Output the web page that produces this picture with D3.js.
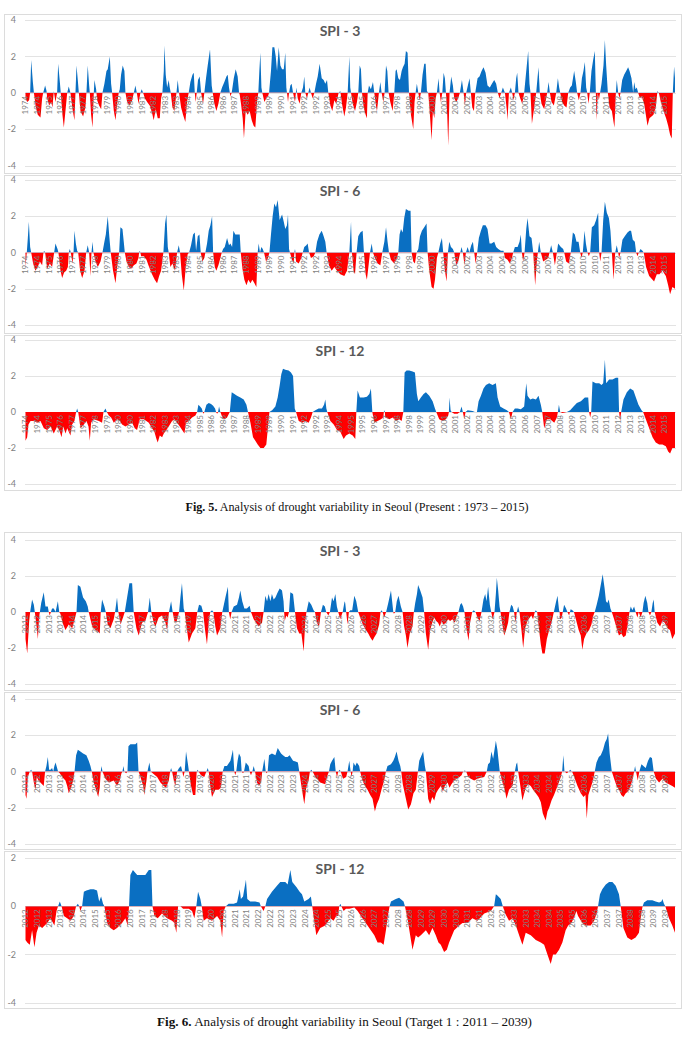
<!DOCTYPE html>
<html><head><meta charset="utf-8">
<script src="https://cdn.jsdelivr.net/npm/d3@7"></script>
<style>body{margin:0;background:#fff}svg{display:block}</style>
</head><body><svg id="c" width="689" height="1044"></svg>
<script>
// ---- DATA: [month index from start of record, SPI value] ----
const fig5Spi3 = [[0,-0.3],[1.3,-0.5],[2.8,-0.4],[3.6,0],[4.4,1.8],[5.7,0.6],[6.5,0],[8.0,-0.8],[9.5,-1.2],[11.6,-1.35],[12.9,-0.3],[13.7,0],[15.2,0.4],[16.3,0.1],[16.8,-0.3],[18.3,-0.7],[19.9,-0.5],[20.9,-0.8],[21.9,0.1],[23.2,-0.5],[24.5,0],[25.3,1.6],[26.6,0.6],[27.3,0],[28.6,-1.2],[29.7,-1.9],[31.2,-0.8],[32.3,0],[33.5,0.35],[34.8,0],[36.4,-0.9],[37.9,-1.5],[38.7,0],[39.5,1.5],[40.5,0.7],[41.3,0],[42.6,-1.0],[44.6,-1.3],[46.4,-0.8],[47.2,0],[48.2,1.5],[49.3,0.4],[49.8,0],[50.8,-1.2],[51.9,-1.9],[52.9,0],[53.4,0.7],[54.7,0.2],[55.5,-0.4],[57.0,-0.7],[58.6,-0.9],[59.6,0],[61.1,0.5],[62.7,1.2],[63.7,1.3],[65.3,2.0],[66.3,0.5],[67.1,0],[68.4,-1.0],[69.7,-1.5],[71.0,-0.6],[72.2,0],[73.0,0.2],[74.0,1.0],[75.3,1.5],[76.6,1.2],[77.4,0],[78.7,-0.5],[80.8,-0.7],[82.6,-0.4],[83.9,0],[85.1,0.4],[86.2,0],[87.5,-0.6],[89.0,0],[90.0,0.2],[91.1,0],[92.4,-0.3],[94.2,-0.5],[96.2,-0.7],[98.0,-1.1],[99.3,-1.5],[100.9,-0.9],[102.4,-1.4],[104.0,-1.4],[105.0,-0.3],[106.0,0],[107.1,1.2],[107.6,2.6],[108.6,1.0],[109.7,0.3],[110.9,0.7],[111.7,0.3],[112.5,0],[113.8,-0.8],[115.3,-1.0],[116.9,0],[117.9,0.7],[118.9,0],[120.5,-0.8],[122.0,-1.2],[123.8,-1.6],[125.1,-0.5],[126.4,0],[127.7,0.6],[129.3,1.0],[130.3,1.1],[131.1,0],[131.8,-0.5],[132.6,0],[133.6,0.7],[134.9,0.9],[136.0,0],[137.5,-0.6],[138.5,0],[139.8,0.8],[141.1,1.5],[142.9,2.4],[144.2,0.4],[145.0,0],[146.3,-0.6],[147.8,-1.0],[149.4,-0.6],[150.9,0],[152.2,0.3],[154.0,0.6],[155.6,0.9],[156.6,1.0],[157.6,0.3],[158.7,-0.2],[159.7,0],[161.3,0.8],[162.8,1.3],[164.3,0.9],[165.4,0],[165.9,-0.1],[166.9,-0.6],[168.2,-1.4],[169.2,-2.5],[170.5,-1.0],[172.1,-1.2],[173.6,-1.0],[175.2,-1.5],[176.7,-1.8],[178.0,-1.9],[179.3,-0.5],[180.3,0],[181.1,1.2],[181.9,2.2],[182.7,0.3],[183.4,0],[185.0,-0.5],[186.5,-0.3],[187.8,-0.2],[188.6,0],[190.1,1.2],[191.2,2.5],[192.7,2.5],[193.8,2.0],[194.8,1.2],[196.1,2.5],[197.4,1.5],[198.7,1.3],[200.0,1.3],[201.2,2.2],[202.0,0.3],[202.5,0],[203.3,-0.5],[204.1,0],[205.1,0.4],[206.1,0.5],[207.2,0],[208.7,-0.5],[209.8,0.3],[210.8,-0.3],[212.3,-0.6],[213.6,0],[214.9,0.3],[215.9,0.9],[216.7,0],[218.0,-0.3],[219.0,0],[220.0,0.3],[221.1,0],[222.4,-0.3],[223.7,0],[225.0,0.5],[226.3,0.9],[227.8,1.6],[229.4,0.8],[230.9,0.7],[232.2,0.5],[233.5,0.7],[234.5,0],[236.1,-0.7],[237.6,-1.0],[239.2,-0.4],[240.7,-0.6],[242.5,0],[243.8,0.1],[245.1,-0.6],[246.9,-1.3],[248.2,-0.8],[249.5,0],[250.8,2.0],[251.5,0.3],[252.1,0],[253.4,-0.6],[255.2,-1.0],[256.7,-0.5],[257.7,0],[258.8,1.5],[259.8,1.3],[260.6,0],[261.9,-0.8],[263.4,-1.2],[264.4,-1.4],[265.0,0],[266.0,0.4],[267.5,0.2],[269.1,0.6],[270.1,0],[271.4,-0.7],[272.2,-1.0],[273.7,0],[274.8,0.6],[275.8,0],[277.1,-0.5],[278.1,0],[279.2,1.5],[280.2,1.2],[281.2,0],[282.5,-0.5],[284.3,-1.0],[285.6,0],[286.6,1.2],[287.4,1.3],[288.7,0.8],[290.0,0.7],[291.3,1.2],[292.3,1.4],[293.6,1.6],[294.6,2.3],[295.9,2.2],[297.0,0],[298.5,-1.2],[300.3,-2.0],[301.3,-0.5],[302.1,0],[303.1,0.5],[304.2,0],[305.2,-0.4],[306.2,0],[307.5,1.0],[308.8,1.6],[309.9,1.6],[310.9,0.1],[311.9,0],[313.0,-1.0],[314.5,-2.6],[315.5,-1.0],[316.6,-1.4],[317.6,-0.3],[318.6,0],[319.9,0.8],[320.7,0],[321.7,-0.5],[322.8,0],[323.8,1.1],[324.8,0.8],[325.6,0],[326.6,-1.2],[327.4,-2.9],[328.4,0],[329.7,0.9],[331.0,0.4],[332.0,-0.3],[333.6,-0.5],[335.1,-0.3],[336.4,0],[338.0,0.7],[339.3,0],[340.3,-0.7],[341.3,0],[342.9,0.5],[343.9,0.8],[344.9,0],[346.0,-0.8],[347.3,-1.0],[348.3,0],[350.1,0.8],[351.6,0.9],[353.2,1.2],[354.7,1.4],[356.3,1.1],[357.8,0.4],[359.6,0.3],[361.2,0.5],[363.0,0.7],[364.5,0.5],[365.8,0],[367.1,-0.3],[368.4,0],[369.7,0.3],[371.3,0],[372.8,-1.0],[373.3,-1.5],[374.4,0],[375.9,0.3],[376.9,0],[378.0,-0.4],[379.0,0],[380.0,0.8],[380.8,1.1],[381.8,0],[383.1,-0.3],[384.7,-0.6],[386.2,0],[387.8,1.2],[389.3,2.3],[390.3,0.5],[391.1,0],[392.2,-1.7],[394.0,-0.8],[395.5,0],[396.5,0.8],[397.3,1.4],[398.3,0],[399.6,-0.6],[401.7,-0.9],[403.0,-0.4],[404.0,0],[405.1,0.6],[406.1,0],[407.4,-0.5],[409.2,-0.7],[411.0,0],[412.3,0.8],[413.3,0.3],[414.1,0],[415.6,-0.5],[417.2,-0.7],[419.0,-0.8],[420.3,0],[421.8,0.3],[423.1,0.4],[424.9,1.2],[426.2,0.6],[427.2,0],[428.5,-0.4],[429.8,0],[430.9,0.8],[432.1,1.2],[433.2,1.7],[434.2,0.3],[435.0,0],[436.0,-0.6],[437.0,0],[438.3,1.2],[439.6,1.8],[440.9,2.3],[441.7,0],[442.2,-1.5],[443.2,0],[444.0,-0.4],[445.0,0],[446.1,0.5],[447.6,1.5],[448.7,2.9],[449.7,1.5],[451.0,0],[452.3,-0.8],[454.1,-1.0],[455.4,-1.6],[456.1,-1.9],[457.2,0],[457.9,0.7],[459.0,0],[460.0,-0.3],[460.8,0],[462.1,0.7],[463.6,1.0],[465.2,1.2],[466.7,1.4],[467.8,1.2],[469.3,0.8],[470.6,0],[471.4,0.6],[472.4,0.2],[473.4,0.3],[474.5,0],[475.7,-0.3],[477.3,-0.2],[479.1,-0.6],[480.4,-1.2],[481.7,-1.8],[483.2,-1.4],[484.8,-1.3],[486.3,-1.2],[488.1,-0.8],[489.4,0.1],[490.5,0],[492.0,-0.5],[494.1,-1.0],[496.1,-1.4],[497.7,-1.8],[499.2,-2.3],[500.5,-2.5],[501.3,0],[502.3,1.45],[503,0.8]];

const fig5Spi6 = [[0,-0.8],[1.0,0],[1.8,0.8],[2.6,1.7],[3.6,0.3],[4.4,0],[5.9,-0.6],[7.7,-1.0],[9.5,-0.8],[11.1,-0.5],[12.9,-0.7],[13.9,0],[14.4,0.1],[15.2,0],[16.8,-0.9],[18.8,-0.6],[20.6,-0.8],[22.2,0],[23.2,0.5],[24.8,0.2],[25.5,0],[27.1,-1.0],[28.4,-1.4],[29.9,-1.1],[31.5,-1.0],[32.8,-0.8],[33.5,0],[34.3,0.2],[35.1,0],[36.4,-0.6],[37.2,0],[37.9,1.2],[39.0,0.5],[40.0,0.1],[40.8,0],[42.3,-1.0],[43.9,-1.4],[45.7,-1.0],[47.0,0],[48.2,0.4],[49.3,0],[50.3,-1.3],[51.1,0],[51.9,0.6],[52.6,0],[54.2,-0.5],[56.0,-0.8],[58.1,-0.5],[59.6,0],[61.1,0.6],[62.2,1.0],[63.7,2.0],[65.0,0.8],[66.0,0],[67.8,-1.0],[69.7,-1.7],[71.0,-0.8],[72.5,0],[73.5,1.4],[75.1,1.3],[76.1,0.6],[76.9,0],[78.2,-0.5],[80.0,-0.8],[81.8,-0.9],[83.9,-0.7],[85.9,-0.6],[87.5,-0.3],[88.0,0],[88.5,0.1],[89.0,0],[89.5,-0.2],[91.6,-0.2],[93.7,-0.4],[95.7,-0.8],[98.0,-1.2],[100.1,-1.5],[101.9,-1.7],[103.5,-1.3],[105.0,-1.0],[106.8,0],[108.1,1.6],[109.1,2.1],[110.2,0.3],[110.9,0],[112.2,-0.8],[113.8,-0.6],[115.8,-1.0],[117.4,0],[118.7,0.4],[119.7,0],[121.0,-1.2],[122.6,-2.1],[124.1,-0.8],[125.6,-0.1],[126.7,0],[128.2,0.4],[129.8,1.0],[131.1,1.1],[132.1,0.1],[133.4,0.9],[134.7,1.0],[135.7,0],[137.0,-0.5],[138.5,-0.3],[139.3,0],[140.6,0.5],[141.9,1.2],[143.2,1.5],[144.5,2.0],[145.3,0],[146.6,-0.8],[147.8,-1.0],[149.4,-0.7],[150.9,-0.3],[152.0,0],[153.0,0.2],[154.3,0.3],[156.1,0.8],[157.6,0.4],[158.7,0.5],[160.0,0.3],[161.0,1.2],[162.5,1.0],[164.3,1.0],[165.9,1.0],[166.7,0],[168.0,-0.9],[169.5,-1.5],[171.1,-1.8],[172.6,-1.5],[174.2,-1.7],[175.7,-1.5],[177.3,-1.7],[178.8,-1.9],[179.8,0],[180.6,0.5],[181.6,0],[182.7,0.3],[183.7,0.2],[184.7,0],[186.3,-0.5],[187.8,-0.3],[188.9,0],[190.1,1.0],[191.4,2.0],[192.7,2.7],[194.0,2.5],[195.3,2.9],[196.8,1.8],[198.7,2.1],[200.0,1.7],[201.2,1.3],[202.5,1.5],[203.3,2.1],[204.1,0.2],[204.8,0],[206.4,-0.4],[207.7,-0.6],[208.2,0],[208.7,0.2],[209.1,0],[209.5,-0.5],[211.6,-0.6],[213.6,-0.3],[214.7,0],[215.9,0.3],[217.5,0.4],[218.5,0.5],[219.6,0],[221.1,-0.3],[223.2,-0.2],[224.5,0],[225.8,0.6],[227.6,1.0],[229.4,1.2],[230.9,0.9],[232.2,0.6],[233.2,0],[235.0,-0.7],[237.1,-1.0],[239.2,-0.8],[241.2,-1.0],[243.8,-1.2],[246.9,-1.3],[249.0,-1.0],[250.8,0],[252.1,1.7],[252.8,0],[254.1,-1.0],[255.2,-1.2],[256.4,0],[257.7,0.9],[259.3,1.1],[261.1,1.2],[262.1,0],[263.4,-1.2],[264.4,-1.5],[265.7,-0.7],[266.8,0],[268.1,0.5],[269.1,0],[270.6,-0.3],[272.7,-0.6],[274.8,-0.7],[276.3,0],[277.1,0.3],[277.9,0.6],[279.2,1.4],[280.4,0.6],[281.5,0],[283.0,-0.4],[285.6,-0.6],[287.7,-0.3],[288.7,0],[289.7,1.0],[290.8,1.3],[292.1,1.1],[293.3,1.9],[294.6,2.4],[296.7,2.3],[298.2,2.3],[299.0,0],[300.3,-0.5],[301.6,-0.6],[302.9,0],[304.2,0.2],[305.5,0.9],[307.0,1.2],[308.8,1.4],[310.6,1.6],[311.4,0],[312.7,-1.0],[314.5,-1.9],[316.0,-2.0],[317.1,-1.5],[318.6,-0.3],[319.7,0],[321.2,0.5],[322.5,0.8],[323.5,0],[324.8,-1.0],[326.1,-1.6],[327.1,0],[328.2,0.6],[329.5,0.3],[331.0,0.2],[332.0,0],[333.6,-0.7],[335.1,-0.5],[336.7,0],[337.7,0.3],[338.7,0],[340.0,-0.7],[341.1,0],[342.4,0.3],[343.7,0],[345.2,0.4],[346.5,0.6],[347.5,0],[348.6,-0.6],[349.8,0],[351.1,0.8],[352.7,1.2],[354.2,1.5],[356.3,1.5],[357.8,1.3],[359.4,0.5],[360.9,0.5],[363.0,0.6],[364.5,0.3],[366.1,0.2],[368.2,0.1],[370.2,0.1],[371.3,-0.3],[373.3,-0.4],[375.1,-0.6],[376.7,-0.3],[377.7,0],[379.0,0.3],[381.1,0.3],[382.6,0.6],[383.6,1.0],[384.4,0],[385.4,-0.5],[386.5,0],[387.8,1.3],[388.8,1.9],[390.3,0.9],[391.9,0.8],[393.2,0],[394.7,-1.8],[396.0,-0.5],[396.8,0],[397.8,0.6],[399.1,0],[400.9,-0.5],[403.0,-0.4],[404.8,-0.3],[405.8,0],[407.1,0.4],[408.4,0],[410.0,-0.7],[411.5,0],[412.5,0.5],[414.6,0.3],[416.4,0.2],[417.2,0],[418.7,-0.5],[420.8,-0.6],[422.3,0],[423.9,1.1],[425.4,1.0],[426.7,0.6],[428.3,0.6],[429.6,0],[430.6,-0.3],[431.6,0],[432.9,1.2],[434.0,0.5],[435.2,0],[436.3,-0.2],[437.3,0],[438.6,1.4],[440.4,1.5],[441.9,1.8],[443.5,2.2],[444.3,0],[445.1,-0.5],[446.1,0],[447.4,1.8],[448.7,2.8],[450.2,2.2],[451.8,1.9],[453.0,1.2],[454.1,0],[455.4,-1.5],[456.7,0],[457.9,0.4],[459.0,0],[459.7,-0.3],[460.8,0],[462.3,0.7],[464.1,0.9],[466.2,1.1],[467.8,1.2],[469.0,1.2],[470.3,0.7],[471.9,0.6],[472.9,0],[473.9,-0.2],[475.0,0],[476.3,0.2],[477.8,0.1],[478.8,0],[480.6,-0.8],[483.0,-1.3],[485.6,-1.5],[486.8,-1.6],[488.9,-1.2],[491.0,-1.2],[493.3,-1.0],[495.9,-1.3],[497.7,-1.8],[499.2,-2.3],[501.0,-1.9],[503,-2.0]];

const fig5Spi12 = [[0,-1.6],[1.3,-1.4],[2.3,-0.7],[3.9,-0.5],[6.5,-0.5],[9.0,-0.6],[11.6,-0.5],[14.2,-0.9],[16.8,-1.0],[19.4,-0.8],[21.9,-1.2],[24.5,-0.8],[26.6,-1.1],[27.9,-1.4],[29.2,-0.8],[31.0,-1.2],[32.3,-0.9],[34.8,-1.3],[36.1,-0.7],[37.9,-0.5],[39.2,0],[40.0,0.2],[40.8,0],[42.6,-0.9],[45.2,-0.7],[47.2,-0.5],[48.8,-0.8],[49.8,-1.6],[50.8,-0.6],[52.9,-0.4],[56.8,-0.5],[59.3,-0.6],[60.4,0],[61.9,0.2],[63.0,0],[64.5,-0.2],[66.3,-0.3],[68.4,-0.6],[71.0,-0.4],[73.0,-0.5],[74.8,-0.7],[77.4,-0.8],[80.0,-0.7],[82.6,-0.6],[84.6,-0.9],[86.4,-1.0],[88.5,-0.4],[91.6,-0.4],[95.5,-0.6],[98.0,-0.9],[99.8,-1.1],[101.4,-1.5],[102.4,-1.7],[104.0,-1.3],[105.8,-1.4],[107.1,-1.2],[109.1,-1.0],[110.9,-0.8],[113.5,-0.5],[115.3,-0.4],[117.4,-0.6],[119.5,-0.8],[121.3,-1.0],[123.1,-1.2],[124.3,-0.6],[126.4,-0.5],[129.0,-0.3],[131.6,-0.2],[132.9,0],[133.9,0.4],[135.2,0.3],[136.5,0.2],[137.3,0],[137.8,-0.1],[138.5,0],[140.1,0.4],[141.9,0.5],[143.7,0.45],[145.3,0.35],[146.8,0.2],[147.6,0],[148.4,-0.1],[149.1,0],[149.9,0.3],[150.9,0],[152.5,-0.3],[154.0,-0.4],[156.1,-0.3],[158.2,0],[159.7,1.1],[161.8,1.0],[163.8,0.9],[166.4,0.8],[169.0,0.7],[171.1,0.4],[172.3,0],[174.2,-0.6],[176.2,-1.4],[178.0,-1.6],[179.8,-1.8],[181.9,-2.0],[184.5,-2.0],[186.5,-1.8],[188.1,-0.6],[188.9,0],[191.0,0.1],[193.5,0.3],[195.3,0.8],[196.9,1.5],[198.1,2.1],[199.4,2.4],[201.2,2.35],[203.8,2.3],[205.6,2.2],[207.2,2.0],[208.5,0.2],[209.5,0],[211.6,-0.5],[214.2,-0.6],[216.7,-0.5],[219.3,-0.6],[221.1,-0.3],[222.4,0],[224.5,0.1],[227.0,0.2],[229.6,0.2],[231.2,0.4],[232.2,0.7],[233.0,0.2],[233.7,0],[236.1,-0.5],[238.7,-0.7],[241.2,-1.0],[243.8,-1.1],[246.4,-1.5],[248.2,-1.3],[250.8,-1.2],[253.4,-1.3],[255.4,-1.5],[256.2,0],[257.2,1.2],[259.0,0.8],[261.9,0.8],[264.4,0.85],[266.3,1.0],[267.5,1.3],[268.6,0],[270.1,-0.6],[272.7,-0.5],[275.3,-0.4],[277.1,-0.3],[277.5,0],[277.9,0.1],[278.3,0],[278.6,-0.3],[281.7,-0.4],[284.3,-0.3],[286.9,-0.5],[289.5,-0.4],[291.3,-0.5],[292.6,0],[293.6,2.2],[295.1,2.3],[297.2,2.3],[299.8,2.25],[301.6,2.2],[303.1,1.0],[304.2,0.6],[306.2,0.8],[308.3,1.0],[310.1,1.1],[312.7,0.9],[315.3,0.6],[317.1,0.2],[318.1,0],[320.4,-0.4],[323.0,-0.5],[325.6,-0.4],[327.4,-0.2],[327.9,0],[328.4,0.8],[329.2,0.1],[330.0,0],[332.0,-0.1],[334.6,-0.1],[336.4,0],[337.7,0.3],[338.7,0],[339.8,-0.4],[340.8,0],[342.4,0.1],[346.2,0.05],[348.0,0],[349.6,0],[350.9,0.6],[352.7,0.9],[354.7,1.3],[356.6,1.5],[359.1,1.6],[361.7,1.5],[364.3,1.6],[365.6,0.8],[367.6,0.3],[370.2,0.2],[372.8,0.1],[374.4,0],[375.9,-0.4],[377.2,0],[379.0,0.2],[381.1,0.2],[383.6,0.15],[386.2,0.3],[387.8,1.6],[388.8,0.9],[390.9,0.7],[392.9,0.75],[395.3,0.7],[397.3,0.9],[399.1,0.4],[400.2,0],[401.7,-0.9],[403.8,-0.4],[406.4,-0.4],[409.5,-0.6],[411.5,-0.3],[412.3,0],[413.1,0.4],[414.1,0],[415.9,-0.05],[419.3,0],[421.8,0.1],[424.4,0.3],[427.0,0.5],[430.1,0.6],[433.2,0.8],[435.8,0.8],[436.5,0],[437.3,-0.3],[438.1,0],[439.1,1.7],[441.7,1.6],[444.3,1.6],[446.1,1.5],[447.4,1.6],[448.7,2.9],[449.7,1.6],[452.0,1.8],[454.6,1.8],[457.2,1.9],[459.0,1.9],[459.7,0],[460.5,-0.5],[461.3,0],[463.1,0.7],[465.7,1.1],[468.3,1.3],[470.8,1.2],[472.7,0.8],[474.7,0.4],[477.1,0.1],[478.3,0],[480.4,-0.4],[483.0,-0.9],[485.6,-1.4],[488.1,-1.7],[490.7,-1.8],[493.3,-1.8],[495.9,-1.9],[497.7,-2.2],[499.2,-2.3],[501.0,-2.0],[503,-2.0]];

const fig6Spi3 = [[0,-1.5],[0.9,-2.3],[1.9,-0.5],[2.4,0],[3.4,0.7],[4.3,0.4],[4.8,0],[5.5,-0.6],[6.4,-1.5],[7.0,-0.3],[7.4,0],[8.1,0.5],[9.4,1.1],[10.3,0.3],[11.5,0.3],[12.0,0],[12.5,-0.2],[13.1,0],[13.7,0.2],[14.6,0.2],[15.5,0],[16.7,0.6],[17.4,0],[18.0,-0.1],[19.1,-0.6],[20.6,-1.0],[22.3,-0.7],[24.1,-0.9],[25.6,-0.3],[26.3,0],[27.0,1.5],[28.3,1.4],[29.7,0.8],[31.1,0.6],[32.1,0.3],[32.6,0],[34.4,-0.8],[36.1,-1.0],[37.5,-1.1],[38.3,-1.2],[38.8,0],[39.5,0.7],[40.7,0.3],[41.4,0],[42.4,-0.7],[43.8,-0.9],[45.5,-0.4],[46.2,0],[47.2,0.8],[47.9,0],[49.0,-0.7],[50.3,-0.3],[51.2,0],[52.4,0.8],[53.6,1.6],[55.0,1.6],[55.8,0],[57.2,-0.9],[58.4,-1.3],[60.1,-0.6],[61.8,-0.5],[63.2,0],[64.1,0.8],[64.9,0],[66.1,-0.6],[67.0,-0.8],[68.7,-0.3],[70.4,-0.2],[72.2,-0.6],[73.0,-1.0],[74.0,0],[75.1,0.6],[75.9,0],[76.8,-0.5],[77.8,-0.6],[79.2,0],[79.9,0.8],[80.7,1.6],[81.6,0.2],[82.1,0],[83.3,-1.0],[84.2,-1.7],[85.9,-1.2],[87.6,-0.9],[88.6,0],[89.5,0.4],[90.7,0.35],[91.6,0],[92.6,-1.0],[93.6,-1.8],[94.6,-0.5],[95.3,0],[96.2,0.1],[96.9,0],[97.9,-0.8],[98.8,-1.3],[100.5,-0.9],[101.5,0],[103.1,0.8],[104.4,1.4],[104.9,0],[105.6,-0.4],[106.3,0],[107.4,0.3],[109.1,0.4],[110.1,0.8],[110.8,1.2],[111.8,0.6],[112.9,0.2],[114.2,0.2],[115.6,0.35],[116.3,0],[117.7,-0.4],[119.0,-0.6],[120.2,-0.8],[122.0,-0.6],[122.8,0],[123.7,0.9],[124.6,0.6],[125.4,1.0],[126.3,0.6],[127.1,1.0],[128.0,0.7],[128.9,0.8],[130.1,1.1],[131.1,1.3],[132.3,1.2],[133.1,0.6],[133.4,0],[133.7,-0.5],[134.5,-0.2],[135.2,-0.3],[135.9,0],[136.6,1.1],[138.0,1.0],[139.0,0],[140.0,-0.9],[141.2,-1.2],[142.3,-1.2],[143.5,-2.2],[144.3,-0.5],[144.9,0],[146.1,0.6],[147.4,0.4],[148.6,0.1],[149.3,0],[150.3,-0.6],[151.4,-0.8],[152.4,0],[153.4,0.4],[154.4,0.3],[155.1,0],[156.2,-0.2],[157.0,0],[158.1,0.8],[158.9,0.6],[159.8,1.0],[160.6,0.3],[161.3,0],[162.3,-0.4],[163.6,0],[164.6,0.6],[164.9,0.5],[165.4,0],[166.1,-0.7],[166.8,0],[167.5,0.1],[168.5,0.1],[169.6,0.9],[170.6,0.6],[171.6,0],[172.6,-0.3],[174.0,-0.7],[175.6,-1.0],[176.8,-1.2],[177.8,-1.4],[179.0,-1.6],[179.9,-1.4],[181.1,-1.2],[182.4,-0.7],[183.1,0],[183.6,0.1],[184.2,0],[185.0,-0.3],[186.0,0],[187.1,0.5],[188.5,1.2],[189.3,0.4],[189.7,0],[190.0,-0.1],[190.7,0],[191.5,0.6],[192.4,0.9],[193.6,0.3],[194.5,0],[195.3,-0.8],[196.2,-1.3],[197.0,-2.0],[198.2,-1.2],[199.6,-0.8],[200.3,0],[201.0,0.5],[201.9,1.0],[202.5,1.5],[203.6,1.2],[204.8,0.8],[205.6,0],[206.5,-1.2],[207.7,-2.1],[208.7,-1.0],[209.8,-0.6],[210.8,-0.3],[211.8,-0.5],[212.8,-0.6],[213.7,-0.8],[214.6,-0.5],[215.6,-0.7],[216.8,-0.6],[218.0,-0.4],[219.0,-0.5],[220.2,-0.4],[221.4,-0.6],[222.5,-0.2],[223.3,0],[224.2,0.4],[224.9,0.5],[225.7,0.3],[226.4,0],[227.3,-0.8],[228.5,-1.6],[229.3,-0.6],[230.4,0],[231.2,0.1],[232.1,0],[233.1,-0.3],[234.2,-0.5],[235.2,0],[236.2,0.7],[237.1,1.0],[237.8,0.6],[238.6,1.4],[239.5,0.4],[240.2,0],[241.0,-0.4],[241.9,0],[242.6,1.0],[243.1,1.9],[243.8,1.2],[244.5,0.3],[245.0,0],[245.8,-0.6],[246.9,-1.3],[247.9,-1.0],[248.9,-0.6],[249.6,0],[250.5,0.4],[251.3,0.3],[252.0,0],[252.7,-0.6],[253.4,0],[254.1,0.3],[254.8,0],[255.8,-1.0],[256.7,-2.0],[257.7,-0.9],[258.9,-0.5],[260.1,-0.3],[260.9,-0.2],[261.8,-0.4],[262.7,0],[263.2,0.1],[263.9,0],[264.9,-1.0],[265.8,-1.8],[266.6,-2.3],[267.8,-2.3],[268.9,-1.5],[270.1,-1.0],[271.3,-0.6],[272.5,0],[273.5,0.5],[274.4,0.9],[275.2,0.1],[275.5,0],[275.7,-0.4],[276.6,-0.3],[277.1,0],[277.8,0.4],[278.8,0.2],[279.5,0],[280.4,-0.2],[280.8,0],[281.2,0.15],[282.1,0.1],[282.9,0],[284.1,-0.5],[285.3,-1.0],[286.4,-1.3],[287.2,-2.1],[288.1,-1.5],[289.3,-1.2],[290.7,-1.0],[291.9,-0.7],[292.9,-0.2],[293.6,0],[294.6,0.4],[295.7,0.9],[296.7,1.5],[297.7,2.1],[298.7,1.3],[299.4,0.6],[300.1,0.5],[300.8,0.7],[301.7,0.2],[302.4,0],[303.6,-0.4],[304.9,-0.9],[306.1,-1.3],[307.3,-1.2],[308.4,-1.4],[309.6,-1.3],[310.8,-0.6],[311.5,0],[312.2,0.3],[313.0,0.1],[313.9,0.3],[314.7,0],[315.6,-0.3],[316.3,0],[317.3,-0.3],[318.2,0],[318.8,0.5],[319.7,0.9],[320.7,0.5],[321.3,0],[322.1,-0.2],[322.8,0],[323.5,0.5],[324.0,0.7],[324.5,0],[325.9,-0.6],[327.3,-0.8],[328.5,-0.5],[329.7,-0.6],[331.1,-0.9],[332.4,-1.0],[333.6,-1.5],[335,-1.2]];

const fig6Spi6 = [[0,-1.3],[0.5,-1.5],[1.2,-0.3],[2.2,0],[2.9,0.1],[3.4,0],[4.3,-0.6],[5.2,-1.0],[5.8,-0.3],[6.7,-0.5],[7.7,-0.6],[9.4,-0.8],[10.1,0],[10.8,0.3],[11.5,0.8],[12.2,0.1],[12.9,0.1],[13.7,0.2],[14.3,0],[14.9,0.3],[15.5,0.5],[16.3,0.2],[16.8,0],[17.7,-0.1],[18.9,-0.3],[20.6,-0.5],[21.5,-0.8],[22.3,-1.2],[23.5,-0.9],[24.6,-0.5],[25.3,0],[26.1,0.9],[27.0,1.2],[28.3,1.1],[29.7,1.0],[31.4,0.9],[32.6,0.6],[33.5,0.3],[34.2,0],[35.2,-0.6],[36.4,-1.0],[37.5,-1.4],[38.3,-0.9],[38.8,0],[39.2,0.3],[39.7,0],[41.2,-0.4],[43.0,-0.6],[45.5,-0.5],[47.2,-0.8],[48.6,-0.5],[49.5,-0.1],[50.0,0],[50.5,0.3],[51.0,0],[51.9,-0.1],[52.6,0],[53.1,1.4],[54.1,1.5],[55.3,1.5],[56.7,1.5],[57.6,1.6],[58.3,0],[59.3,-0.3],[60.7,-0.8],[61.3,-1.3],[62.4,-0.5],[62.9,0],[63.9,0.5],[64.6,0],[65.6,-0.1],[67.9,-0.3],[69.6,-0.6],[71.3,-0.8],[72.5,-0.9],[73.9,-0.5],[74.6,0],[75.1,0.2],[75.6,0],[76.5,-0.5],[77.3,-0.8],[78.2,0],[79.2,0.2],[80.2,0.3],[80.9,0],[81.4,-0.3],[82.1,0],[82.8,1.1],[83.8,0.4],[84.3,0],[85.2,-0.7],[86.4,-1.3],[87.6,-1.3],[88.3,0],[88.8,0.1],[89.3,0],[90.5,-0.2],[92.2,-0.3],[93.3,0],[94.0,0.2],[94.5,0],[95.3,-0.8],[96.2,-1.4],[97.9,-1.0],[99.6,-1.0],[100.8,-0.9],[101.7,0],[102.6,0.3],[103.9,0.3],[105.7,0.6],[107.0,1.2],[107.7,0],[108.2,-0.2],[108.7,0],[109.4,0.6],[110.1,1.0],[111.0,0.8],[111.5,0],[112.2,-0.1],[112.7,0],[113.6,0.5],[115.1,0.3],[115.6,0],[116.3,-0.2],[117.0,0],[117.7,0.3],[118.4,0],[119.4,-0.6],[120.4,-0.8],[121.5,-0.6],[122.1,0],[123.2,0.7],[123.9,0],[124.4,-0.1],[124.9,0],[125.6,0.9],[127.1,1.0],[128.9,0.9],[130.1,1.3],[131.8,1.0],[132.8,0.9],[134.0,0.8],[135.2,0.8],[136.2,0.9],[138.0,0.6],[139.3,0.55],[140.5,0.5],[141.2,0],[142.6,-1.0],[143.8,-1.8],[144.8,-0.9],[146.0,-0.5],[146.7,0],[147.4,0.1],[148.1,0],[149.5,-0.3],[152.0,-0.6],[154.6,-0.7],[155.8,-0.2],[156.5,0],[157.2,0.4],[158.1,0.6],[159.3,0.8],[160.0,0],[160.7,-0.3],[161.3,0],[162.0,0.1],[162.6,0],[163.8,-0.4],[165.4,-0.3],[166.1,0],[167.0,0.6],[167.7,0],[168.2,-0.3],[168.7,0],[169.2,0.5],[170.1,0.3],[170.9,0.5],[172.1,0.3],[172.6,0],[173.8,-0.5],[175.1,-0.8],[176.4,-1.0],[177.8,-1.3],[179.0,-1.5],[180.2,-2.2],[181.2,-1.8],[182.4,-1.5],[183.6,-1.0],[185.0,-0.5],[185.9,0],[186.7,0.3],[188.5,0.4],[189.7,0.6],[190.5,0.8],[191.4,1.1],[192.4,0.6],[193.3,0.3],[193.8,0],[194.6,-0.7],[196.2,-1.5],[197.4,-2.1],[198.8,-1.8],[200.1,-1.2],[201.3,-1.0],[202.4,0],[203.1,0.6],[203.9,0.8],[205.1,1.1],[206.0,0.3],[206.5,0],[207.7,-1.5],[208.7,-1.8],[209.8,-1.4],[210.8,-1.6],[211.8,-1.2],[212.8,-1.0],[214.2,-0.8],[215.3,-1.1],[216.3,-0.8],[217.7,-0.6],[218.7,-0.9],[219.7,-0.7],[221.1,-0.5],[222.5,-0.4],[223.8,-0.3],[224.9,-0.2],[225.7,0],[226.6,0.05],[227.3,0],[228.3,-0.3],[229.7,-0.4],[231.4,-0.5],[233.1,-0.4],[234.8,-0.35],[236.6,-0.3],[237.9,0],[238.6,0.4],[239.5,0.5],[240.3,1.1],[241.2,0.7],[241.9,1.2],[242.6,1.7],[243.4,1.2],[244.1,0.5],[244.6,0],[246.0,-0.6],[247.2,-1.0],[248.1,-1.5],[249.4,-1.0],[251.2,-0.8],[252.4,0],[253.1,0.4],[253.6,0.5],[254.1,0],[255.1,-0.7],[256.3,-1.6],[258.0,-0.9],[259.2,-0.7],[260.6,-0.8],[261.8,-1.0],[263.2,-1.2],[264.6,-1.4],[265.8,-1.7],[266.8,-2.3],[267.5,-2.5],[268.3,-2.7],[269.2,-2.2],[270.1,-2.0],[271.3,-1.6],[272.6,-1.3],[274.4,-0.8],[276.1,-0.3],[276.8,0],[277.4,0.9],[278.0,0],[279.2,-0.1],[280.2,0],[280.9,0.1],[281.9,0],[283.0,-0.3],[284.7,-0.8],[286.4,-1.2],[287.8,-1.4],[288.8,-1.3],[289.5,-2.6],[290.3,-1.3],[291.5,-0.9],[292.7,-0.5],[293.6,0],[294.5,0.5],[295.7,0.8],[296.7,0.9],[297.9,1.2],[298.9,1.6],[299.8,1.8],[300.5,2.1],[301.3,1.0],[302.4,0],[303.6,-0.4],[304.9,-0.8],[306.1,-1.0],[307.3,-1.3],[308.4,-1.4],[309.6,-1.2],[310.8,-1.1],[312.1,-0.8],[313.4,-0.3],[313.9,0],[314.4,0.3],[314.9,0],[315.8,-0.5],[316.6,0],[317.7,0.4],[318.7,0.3],[319.9,0.2],[321.1,0.6],[322.1,0.8],[323.1,0.75],[324.0,0],[325.2,-0.4],[326.8,-0.6],[328.5,-0.4],[330.2,-0.6],[331.9,-0.7],[333.6,-0.8],[335,-0.9]];

const fig6Spi12 = [[0,-1.4],[0.9,-1.5],[2.2,-1.6],[3.4,-1.0],[4.6,-1.7],[5.7,-1.1],[6.9,-0.8],[8.6,-0.9],[11.2,-0.7],[12.9,-0.5],[14.9,-0.8],[16.0,-0.2],[16.8,0],[17.7,0.2],[18.6,0],[19.8,-0.4],[21.5,-0.5],[23.2,-0.6],[24.9,-0.4],[26.1,0],[27.0,0.1],[27.7,0],[28.3,-0.2],[29.2,0],[30.1,0.6],[31.4,0.65],[33.5,0.7],[35.2,0.7],[36.9,0.65],[38.0,0.2],[39.0,0.4],[40.0,0.1],[40.7,0],[42.1,-0.7],[43.8,-0.9],[45.5,-1.0],[47.2,-0.9],[49.8,-0.7],[51.5,-0.5],[52.7,-0.8],[53.4,0],[54.1,1.3],[55.4,1.5],[57.6,1.3],[60.1,1.3],[61.8,1.3],[63.6,1.5],[64.9,1.5],[65.5,0],[66.5,-0.4],[68.2,-0.5],[70.4,-0.3],[73.0,-0.5],[75.6,-0.6],[76.8,-0.7],[77.8,-1.1],[78.7,0],[79.9,0],[81.3,-0.1],[84.2,-0.1],[85.9,-0.2],[87.1,-0.5],[88.1,0],[89.0,0.6],[90.2,0.3],[90.9,0],[91.9,-0.6],[93.6,-0.5],[96.2,-0.6],[98.8,-0.4],[100.5,-0.6],[101.4,-1.3],[102.2,-0.2],[103.3,0],[104.8,0.1],[107.4,0.1],[109.1,0.15],[110.0,0.5],[110.5,0.7],[111.1,0.3],[112.2,0.4],[113.7,1.1],[114.4,0.3],[115.9,0.2],[118.5,0.2],[120.7,0.15],[121.4,0],[122.8,-0.2],[123.7,0],[124.6,0.3],[127.1,0.6],[129.7,0.85],[131.4,1.0],[134.0,1.0],[135.2,0.9],[136.6,1.5],[137.6,1.0],[139.7,0.8],[141.4,0.6],[142.6,0.5],[143.8,0.2],[146.0,0.3],[147.2,0.4],[147.9,0],[148.9,-0.6],[150.0,-1.2],[152.0,-0.9],[154.6,-0.8],[157.2,-0.5],[158.9,-0.6],[160.3,-0.4],[161.3,-0.4],[161.8,0],[162.4,0.1],[162.9,0],[164.1,-0.2],[165.3,-0.1],[167.0,-0.1],[169.6,-0.05],[171.3,-0.2],[173.0,-0.4],[174.7,-0.6],[177.3,-0.9],[179.9,-1.2],[181.6,-1.5],[183.3,-1.5],[184.7,-1.6],[185.9,-1.0],[187.1,-0.3],[187.8,0],[188.5,0.2],[191.0,0.3],[192.7,0.35],[195.0,0.2],[195.7,0],[197.0,-0.5],[198.4,-1.2],[199.6,-1.8],[201.3,-1.2],[202.5,-1.3],[203.9,-1.2],[206.5,-1.0],[208.2,-1.2],[209.9,-0.9],[211.6,-1.2],[213.0,-1.5],[214.2,-1.6],[215.9,-1.9],[217.3,-1.8],[218.5,-1.5],[221.1,-1.0],[223.7,-0.8],[225.4,-0.7],[228.0,-0.7],[230.5,-0.5],[233.1,-0.6],[236.6,-0.3],[240.0,-0.2],[241.7,0],[242.6,0.5],[243.4,0.45],[245.1,0.3],[246.2,0],[247.4,-0.3],[249.4,-0.6],[251.2,-0.5],[252.9,-0.8],[254.6,-1.2],[256.3,-1.6],[258.0,-1.1],[260.6,-1.2],[263.2,-1.4],[265.8,-1.5],[267.5,-1.6],[269.2,-2.0],[270.9,-2.4],[272.1,-2.0],[273.5,-2.0],[275.2,-1.8],[276.9,-1.5],[278.6,-1.0],[279.9,-0.8],[281.6,-0.7],[283.3,-0.4],[284.1,-0.2],[285.0,-0.4],[287.2,-0.7],[289.0,-0.8],[291.5,-0.8],[293.3,-0.6],[294.6,-0.3],[295.3,0],[296.3,0.5],[297.5,0.7],[299.3,0.9],[301.0,1.0],[302.7,1.0],[304.4,0.85],[306.1,0.5],[307.0,0],[308.4,-0.9],[310.4,-1.3],[312.5,-1.4],[314.7,-1.3],[316.4,-1.1],[317.6,-0.3],[318.3,0],[319.0,0.15],[320.7,0.25],[323.3,0.25],[325.0,0.2],[326.8,0.15],[328.0,0.2],[328.5,0.3],[329.3,0.1],[330.0,0],[331.9,-0.5],[333.6,-0.8],[335,-1.1]];

// ---- tick labels ----
const fig5YearLabels = ["1974","1974","1975","1976","1977","1977","1978","1979","1980","1980","1981","1982","1983","1983","1984","1985","1986","1986","1987","1988","1989","1989","1990","1991","1992","1992","1993","1994","1995","1995","1996","1997","1998","1998","1999","2000","2001","2001","2002","2003","2004","2004","2005","2006","2007","2007","2008","2009","2010","2010","2011","2012","2013","2013","2014","2015"];
const fig6YearLabels = ["2012","2012","2013","2013","2014","2014","2015","2015","2016","2016","2017","2017","2018","2018","2019","2019","2020","2020","2021","2021","2022","2022","2023","2023","2024","2024","2025","2025","2026","2026","2027","2027","2028","2028","2029","2029","2030","2030","2031","2031","2032","2032","2033","2033","2034","2034","2035","2035","2036","2036","2037","2037","2038","2038","2039","2039"];
const yTicksFull = [-4,-2,0,2,4];
const yTicksShort = [-4,-2,0,2];
const panelTitles = ["SPI - 3","SPI - 6","SPI - 12","SPI - 3","SPI - 6","SPI - 12"];
const captions = [
  {bold:"Fig. 5.", rest:" Analysis of drought variability in Seoul (Present : 1973 \u2013 2015)"},
  {bold:"Fig. 6.", rest:" Analysis of drought variability in Seoul (Target 1 : 2011 \u2013 2039)"}
];

// ---- layout ----
const BLUE = "#0a6fc2", RED = "#ff0000", GRID = "#e3e3e3", TXT = "#7f7f7f";
const X0 = 25.5, X1 = 675;
const panels = [
  {data:fig5Spi3,  n:503, labels:fig5YearLabels, step:9, box:[14,173],   yr:[165.7,20],   dom:[-4,4], ticks:yTicksFull,  ty:36},
  {data:fig5Spi6,  n:503, labels:fig5YearLabels, step:9, box:[175,333],  yr:[325,180],    dom:[-4,4], ticks:yTicksFull,  ty:196},
  {data:fig5Spi12, n:503, labels:fig5YearLabels, step:9, box:[335,490],  yr:[484,340],    dom:[-4,4], ticks:yTicksFull,  ty:356},
  {data:fig6Spi3,  n:335, labels:fig6YearLabels, step:6, box:[532,690],  yr:[684,540],    dom:[-4,4], ticks:yTicksFull,  ty:556},
  {data:fig6Spi6,  n:335, labels:fig6YearLabels, step:6, box:[692,849],  yr:[844,699],    dom:[-4,4], ticks:yTicksFull,  ty:715},
  {data:fig6Spi12, n:335, labels:fig6YearLabels, step:6, box:[851,1008], yr:[1002.7,858], dom:[-4,2], ticks:yTicksShort, ty:874}
];

const svg = d3.select("#c");
svg.append("rect").attr("width",689).attr("height",1044).attr("fill","#fff");
const defs = svg.append("defs");

panels.forEach((p,i)=>{
  const g = svg.append("g");
  g.append("rect").attr("x",4.5).attr("y",p.box[0]+0.5).attr("width",677).attr("height",p.box[1]-p.box[0])
    .attr("fill","#fff").attr("stroke","#dcdcdc").attr("stroke-width",1);
  const x = d3.scaleLinear().domain([0,p.n]).range([X0,X1]);
  const y = d3.scaleLinear().domain(p.dom).range(p.yr);
  g.selectAll("line.grid").data(p.ticks).join("line").attr("class","grid")
    .attr("x1",25).attr("x2",676).attr("y1",d=>Math.round(y(d))+0.5).attr("y2",d=>Math.round(y(d))+0.5)
    .attr("stroke",GRID).attr("stroke-width",1);
  g.selectAll("text.yt").data(p.ticks).join("text").attr("class","yt")
    .attr("x",16).attr("y",d=>y(d)).attr("dy","0.35em").attr("text-anchor","end")
    .attr("font-family","Lato, 'Open Sans', sans-serif").attr("font-size",9).attr("fill",TXT)
    .text(d=>String(d));
  const y0 = y(0);
  defs.append("clipPath").attr("id","up"+i).append("rect").attr("x",0).attr("y",p.box[0]).attr("width",689).attr("height",y0-p.box[0]);
  defs.append("clipPath").attr("id","dn"+i).append("rect").attr("x",0).attr("y",y0).attr("width",689).attr("height",p.box[1]-y0);
  const area = d3.area().x(d=>x(d[0])).y0(y0).y1(d=>y(d[1])).curve(d3.curveLinear);
  g.append("path").datum(p.data).attr("d",area).attr("fill",BLUE).attr("clip-path",`url(#up${i})`);
  g.append("path").datum(p.data).attr("d",area).attr("fill",RED).attr("clip-path",`url(#dn${i})`);
  g.selectAll("text.xl").data(p.labels).join("text").attr("class","xl")
    .attr("transform",(d,k)=>`translate(${x(k*p.step)},${y0+3}) rotate(-90)`)
    .attr("text-anchor","end").attr("dy","0.35em")
    .attr("font-family","Lato, 'Open Sans', sans-serif").attr("font-size",8).attr("fill",TXT)
    .text(d=>d);
  g.append("text").attr("x",340).attr("y",p.ty).attr("text-anchor","middle")
    .attr("font-family","Lato, 'Open Sans', sans-serif").attr("font-weight","bold").attr("font-size",14)
    .attr("fill","#595959").text(panelTitles[i]);
});

const capPos = [{x:357, y:511, w:343},{x:344.5, y:1026, w:375}];
captions.forEach((c,i)=>{
  const t = svg.append("text").attr("x",capPos[i].x).attr("y",capPos[i].y).attr("text-anchor","middle")
    .attr("font-family","'Liberation Serif', 'Times New Roman', serif").attr("font-size",13).attr("fill","#111")
    .attr("textLength",capPos[i].w).attr("lengthAdjust","spacingAndGlyphs");
  t.append("tspan").attr("font-weight","bold").text(c.bold);
  t.append("tspan").text(c.rest);
});
</script>
</body></html>
